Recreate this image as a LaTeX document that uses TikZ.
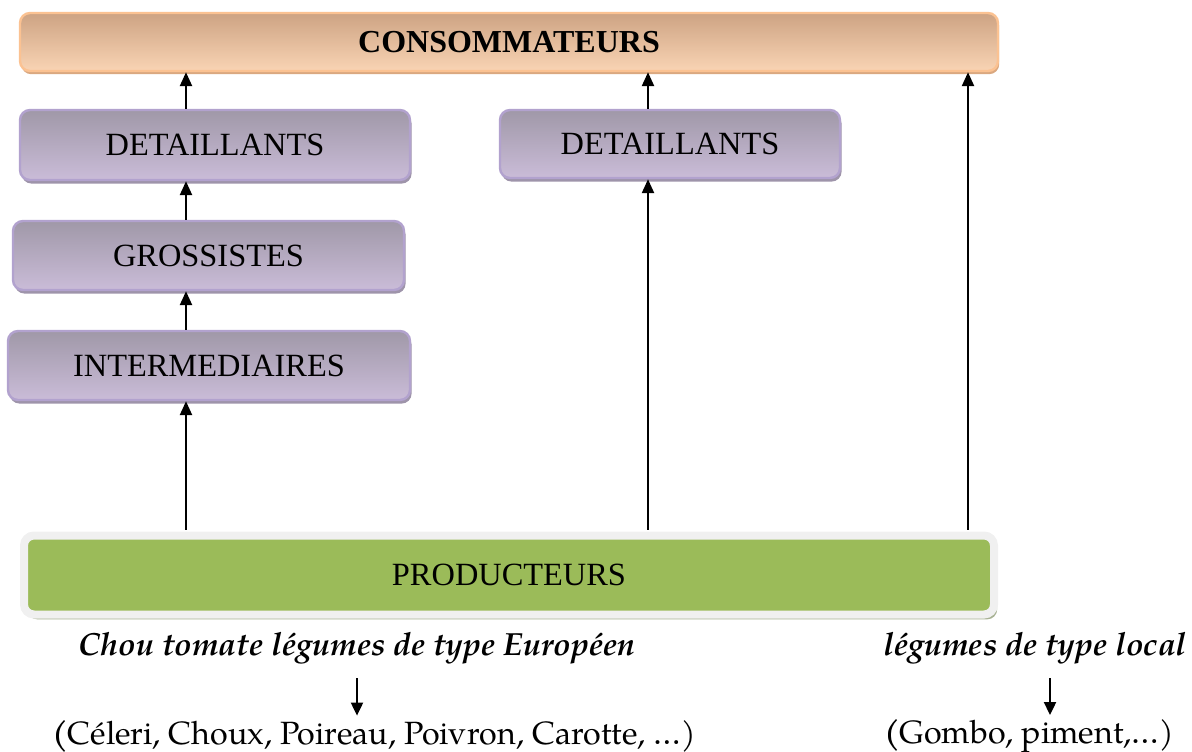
\documentclass[tikz,border=0pt]{standalone}
\usepackage{fontspec}
\setmainfont{Liberation Serif}
\newfontfamily\pal{TeX Gyre Pagella}
\usetikzlibrary{arrows.meta,shadows}
\definecolor{orTop}{RGB}{205,163,131}
\definecolor{orBot}{RGB}{249,212,180}
\definecolor{orLine}{RGB}{251,194,146}
\definecolor{orShadow}{RGB}{218,168,128}
\definecolor{puTop}{RGB}{160,152,168}
\definecolor{puBot}{RGB}{202,188,216}
\definecolor{puLine}{RGB}{178,162,206}
\definecolor{puShadow}{RGB}{158,148,170}
\definecolor{grFill}{RGB}{155,187,89}
\definecolor{grLine}{RGB}{240,240,240}
\definecolor{grShadow}{RGB}{168,178,148}
\begin{document}
\begin{tikzpicture}[x=0.5pt,y=-0.5pt,
  boxbase/.style={rectangle, rounded corners=5pt, inner sep=0pt, line width=1.2pt,
    font=\fontsize{16.2}{18}\selectfont},
  orbox/.style={boxbase, draw=orLine, top color=orTop, bottom color=orBot,
    drop shadow={shadow xshift=0.6pt, shadow yshift=-1.6pt, fill=orShadow, opacity=1},
    font=\fontsize{16}{18}\selectfont\bfseries},
  pubox/.style={boxbase, draw=puLine, top color=puTop, bottom color=puBot,
    drop shadow={shadow xshift=0.8pt, shadow yshift=-1.8pt, fill=puShadow, opacity=1}},
  grbox/.style={boxbase, draw=grLine, line width=4pt, fill=grFill,
    drop shadow={shadow xshift=1.6pt, shadow yshift=-2.4pt, fill=grShadow, opacity=1}},
  arr/.style={line width=1.2pt, -{Triangle[length=7pt,width=6pt]}},
  sarr/.style={line width=1pt, -{Triangle[length=6.5pt,width=6pt]}},
  itxt/.style={font=\pal\fontsize{16}{18}\selectfont\bfseries\itshape, inner sep=0pt},
  ltxt/.style={font=\pal\fontsize{16.1}{18}\selectfont, inner sep=0pt}
]
\useasboundingbox (0,0) rectangle (1192,751);
\node[orbox, minimum width=489pt, minimum height=29pt] (cons) at (509,42) {CONSOMMATEURS};
\node[pubox, minimum width=195pt, minimum height=35pt] (det1) at (215,145) {DETAILLANTS};
\node[pubox, minimum width=170pt, minimum height=34pt] (det2) at (670,144) {DETAILLANTS};
\node[pubox, minimum width=195.5pt, minimum height=34.5pt] (gros) at (208.5,255.5) {GROSSISTES};
\node[pubox, minimum width=201pt, minimum height=34.5pt] (inter) at (209,365.5) {INTERMEDIAIRES};
\node[grbox, minimum width=485pt, minimum height=39.5pt] (prod) at (509,575) {PRODUCTEURS};

\coordinate (ca) at (186,0);
\coordinate (cb) at (648,0);
\coordinate (cc) at (968,0);
\draw[arr] (det1.north -| ca) -- (cons.south -| ca);
\draw[arr] (gros.north -| ca) -- (det1.south -| ca);
\draw[arr] (inter.north -| ca) -- (gros.south -| ca);
\draw[arr] ([yshift=1pt]prod.north -| ca) -- (inter.south -| ca);
\draw[arr] (det2.north -| cb) -- (cons.south -| cb);
\draw[arr] ([yshift=1pt]prod.north -| cb) -- (det2.south -| cb);
\draw[arr] ([yshift=1pt]prod.north -| cc) -- (cons.south -| cc);

\node[itxt] (t1) at (357,648) {Chou tomate légumes de type Européen};
\node[itxt] (t2) at (1035,648) {légumes de type local};
\node[ltxt] (l1) at (374,736) {{\bfseries(}Céleri, Choux, Poireau, Poivron, Carotte, …)};
\node[ltxt] (l2) at (1029,736) {{\bfseries(}Gombo, piment,…)};
\coordinate (cd) at (357,0);
\coordinate (ce) at (1050,0);
\draw[sarr] ([yshift=-7pt]t1.south -| cd) -- ([yshift=2pt]l1.north -| cd);
\draw[sarr] ([yshift=-7pt]t2.south -| ce) -- ([yshift=2pt]l2.north -| ce);
\end{tikzpicture}
\end{document}
